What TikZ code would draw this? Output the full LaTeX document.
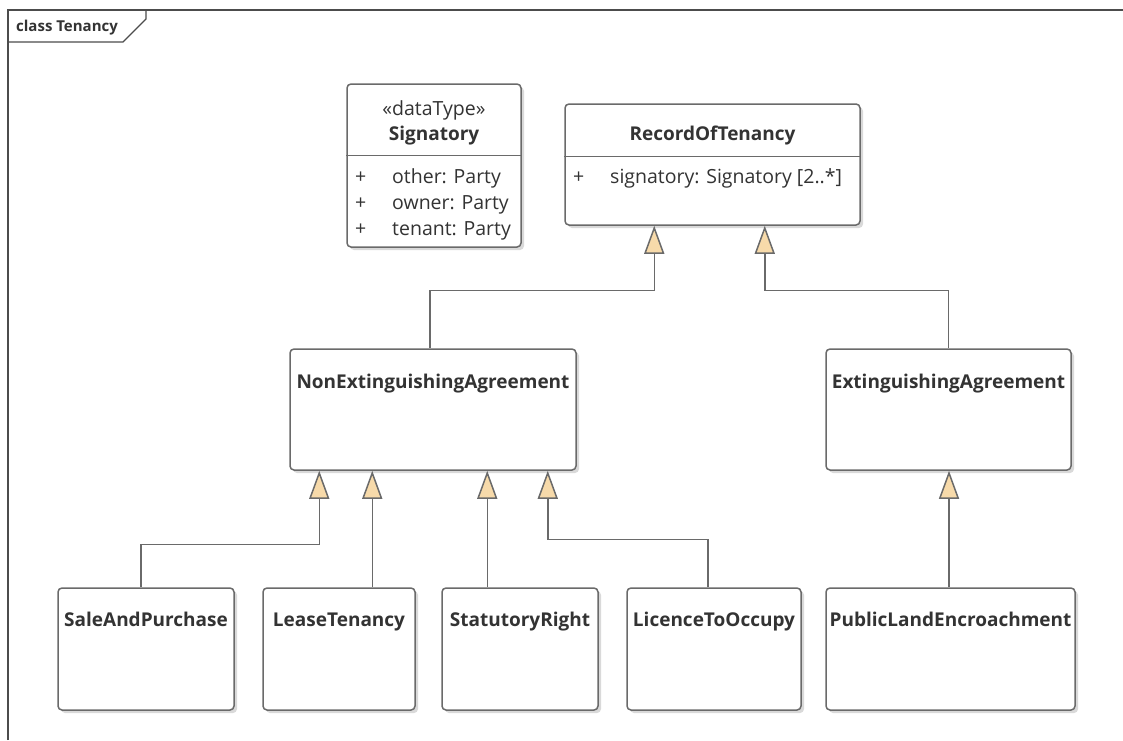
\documentclass[tikz,border=0pt]{standalone}
\usepackage{fontspec}
\setmainfont{Open Sans}
\usetikzlibrary{arrows.meta,shadows}
\definecolor{edge}{HTML}{6A6A6A}
\definecolor{ink}{HTML}{333333}
\definecolor{tri}{HTML}{F7DAAA}
\tikzset{
  classbox/.style={draw=edge, line width=1.5pt, fill=white, rounded corners=4pt,
    drop shadow={shadow xshift=3pt, shadow yshift=-3pt, fill=black!25, opacity=0.6},
    inner sep=0pt},
  cname/.style={font=\bfseries\fontsize{19}{22}\selectfont, text=ink, inner sep=0pt, anchor=base},
  cattr/.style={font=\fontsize{19.5}{22}\selectfont, text=ink, inner sep=0pt, anchor=base west},
  gen/.style={draw=edge, line width=1.5pt, -{Triangle[width=20pt,length=28pt,fill=tri]}},
  frameline/.style={draw=black!70, line width=1.3pt}
}
\begin{document}
\begin{tikzpicture}[x=1pt,y=-1pt]
\useasboundingbox (0,0) rectangle (1123,740);
% diagram frame
\draw[frameline] (8,740) -- (8,10) -- (1123,10);
\draw[frameline] (8,42) -- (123,42) -- (146,19) -- (146,10);
\node[font=\bfseries\fontsize{15}{17}\selectfont, text=ink, anchor=base west, inner sep=0pt] (ftitle) at (16,31) {class Tenancy};

% class boxes
\node[classbox, minimum width=174pt, minimum height=163pt] (sig) at (434,165.5) {};
\node[classbox, minimum width=295pt, minimum height=121pt] (rot) at (712.5,164.5) {};
\node[classbox, minimum width=286pt, minimum height=121pt] (nonext) at (433,409.5) {};
\node[classbox, minimum width=245pt, minimum height=121pt] (ext) at (948.5,409.5) {};
\node[classbox, minimum width=176pt, minimum height=122pt] (sale) at (146,649) {};
\node[classbox, minimum width=152pt, minimum height=122pt] (lease) at (339,649) {};
\node[classbox, minimum width=156pt, minimum height=122pt] (stat) at (520,649) {};
\node[classbox, minimum width=174pt, minimum height=122pt] (lic) at (714,649) {};
\node[classbox, minimum width=249pt, minimum height=122pt] (ple) at (950.5,649) {};

% compartments
\draw[draw=edge, line width=1.5pt] (sig.west |- 0,155.5) -- (sig.east |- 0,155.5);
\draw[draw=edge, line width=1.5pt] (rot.west |- 0,156.5) -- (rot.east |- 0,156.5);

% Signatory
\node[font=\fontsize{19.5}{22}\selectfont, text=ink, inner sep=0pt, anchor=base] (sigst) at (434,115) {«dataType»};
\node[cname] (sign) at (434,140) {Signatory};
\node[cattr] (sp1) at (355,183) {+};
\node[cattr] (sa1) at (392,183) {other: Party};
\node[cattr] (sp2) at (355,209) {+};
\node[cattr] (sa2) at (392,209) {owner: Party};
\node[cattr] (sp3) at (355,235) {+};
\node[cattr] (sa3) at (392,235) {tenant: Party};

% RecordOfTenancy
\node[cname] (rotn) at (712.5,140) {RecordOfTenancy};
\node[cattr] (rp1) at (573,183) {+};
\node[cattr] (ra1) at (610,183) {signatory: Signatory [2..*]};

% other class names
\node[cname] (nonextn) at (433,388) {NonExtinguishingAgreement};
\node[cname] (extn) at (948.5,388) {ExtinguishingAgreement};
\node[cname] (salen) at (146,626) {SaleAndPurchase};
\node[cname] (leasen) at (339,626) {LeaseTenancy};
\node[cname] (statn) at (520,626) {StatutoryRight};
\node[cname] (licn) at (714,626) {LicenceToOccupy};
\node[cname] (plen) at (950.5,626) {PublicLandEncroachment};

% generalizations
\draw[gen] ([xshift=-3pt]nonext.north) -- ++(0,-58) -| ([xshift=90pt]rot.south west);
\draw[gen] (ext.north) -- ++(0,-58) -| ([xshift=-96pt]rot.south east);
\draw[gen] ([xshift=-5pt]sale.north) -- ++(0,-43) -| ([xshift=30pt]nonext.south west);
\draw[gen] ([xshift=110pt]lease.north west) -- ([xshift=110pt]lease.north west |- nonext.south);
\draw[gen] ([xshift=46pt]stat.north west) -- ([xshift=46pt]stat.north west |- nonext.south);
\draw[gen] ([xshift=-6pt]lic.north) -- ++(0,-48) -| ([xshift=-29pt]nonext.south east);
\draw[gen] ([xshift=-1.5pt]ple.north) -- ([xshift=-1.5pt]ple.north |- ext.south);
\end{tikzpicture}
\end{document}
